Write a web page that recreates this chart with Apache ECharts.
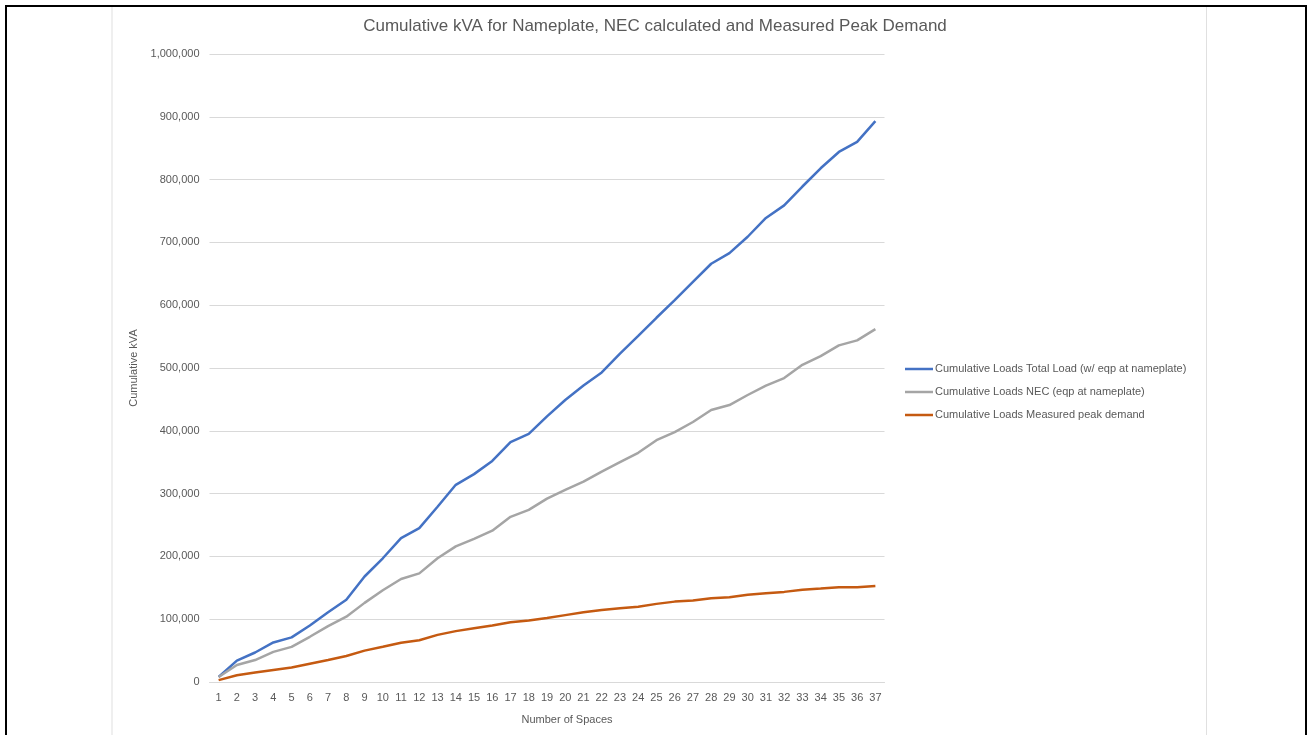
<!DOCTYPE html>
<html>
<head>
<meta charset="utf-8">
<script src="https://cdn.jsdelivr.net/npm/echarts@6/dist/echarts.min.js"></script>
<style>
html,body{margin:0;padding:0;background:#fff;}
#c{width:1310px;height:735px;}
</style>
</head>
<body>
<div id="c"></div>
<script>
const categories = ['1','2','3','4','5','6','7','8','9','10','11','12','13','14','15','16','17','18','19','20','21','22','23','24','25','26','27','28','29','30','31','32','33','34','35','36','37'];
const totalLoad = [8000,34000,47000,63000,71000,90000,111000,131000,168000,197000,229000,245000,279000,314000,331000,352000,382000,395000,423000,449000,472000,493000,523000,551000,580000,608000,637000,666000,683000,709000,739000,759000,789000,818000,844000,860000,893000];
const necLoad = [8000,27000,35000,48000,56000,72000,89000,104000,126000,146000,164000,173000,197000,216000,228000,241000,263000,274000,292000,306000,319000,335000,350000,365000,385000,398000,414000,433000,441000,457000,472000,484000,505000,519000,536000,544000,562000];
const measuredPeak = [3000,10700,15000,19000,23000,29000,35000,41500,50000,56000,62500,66500,75000,81000,85500,90000,95000,97800,102000,106500,111000,114800,117500,120000,124400,128000,129700,133500,135000,139000,141400,143500,147000,148800,151000,151000,153000];
const seriesNames = ['Cumulative Loads Total Load (w/ eqp at nameplate)','Cumulative Loads NEC (eqp at nameplate)','Cumulative Loads Measured peak demand'];
const seriesColors = ['#4472C4','#A5A5A5','#C55A11'];
const yTicks = {min:0, max:1000000, interval:100000};

const FONT = 'Liberation Sans';
const TXT = '#595959';
const chart = echarts.init(document.getElementById('c'), null, {renderer:'canvas'});
chart.setOption({
  animation:false,
  backgroundColor:'#ffffff',
  textStyle:{fontFamily:FONT},
  title:{
    text:'Cumulative kVA for Nameplate, NEC calculated and Measured Peak Demand',
    left:'center', top:18, padding:0,
    textStyle:{fontFamily:FONT, fontSize:17, fontWeight:'normal', color:TXT}
  },
  legend:{
    orient:'vertical', left:900, top:358, itemWidth:28, itemHeight:2.5, itemGap:11, icon:'rect',
    textStyle:{fontFamily:FONT, fontSize:11, color:TXT, lineHeight:12, padding:[0,0,0,-3]},
    data:seriesNames.map((n,i)=>({name:n, icon:'rect', itemStyle:{color:seriesColors[i]}}))
  },
  grid:{left:209.5, right:425.5, top:54, bottom:53, containLabel:false},
  xAxis:{
    type:'category', data:categories, boundaryGap:true,
    name:'Number of Spaces', nameLocation:'middle', nameGap:32,
    nameTextStyle:{fontFamily:FONT, fontSize:11, color:TXT, padding:[0,0,0,40]},
    axisLine:{lineStyle:{color:'#D9D9D9', width:1}},
    axisTick:{show:false},
    axisLabel:{fontFamily:FONT, fontSize:11, color:TXT, margin:10, interval:0}
  },
  yAxis:{
    type:'value', min:yTicks.min, max:yTicks.max, interval:yTicks.interval,
    name:'Cumulative kVA', nameLocation:'middle', nameGap:63, nameRotate:90,
    nameTextStyle:{fontFamily:FONT, fontSize:11, color:TXT},
    axisLine:{show:false}, axisTick:{show:false},
    splitLine:{lineStyle:{color:'#D9D9D9', width:1}},
    axisLabel:{fontFamily:FONT, fontSize:11, color:TXT, margin:10,
      formatter:v=>v.toLocaleString('en-US')}
  },
  series:seriesNames.map((n,i)=>({
    name:n, type:'line', data:[totalLoad, necLoad, measuredPeak][i], symbol:'none', showSymbol:false,
    lineStyle:{color:seriesColors[i], width:2.5}, itemStyle:{color:seriesColors[i]}
  })),
  graphic:[
    {type:'rect', silent:true, shape:{x:5, y:5, width:1300, height:2}, style:{fill:'#000'}},
    {type:'rect', silent:true, shape:{x:5, y:5, width:2, height:735}, style:{fill:'#000'}},
    {type:'rect', silent:true, shape:{x:1305, y:5, width:2, height:735}, style:{fill:'#000'}},
    {type:'rect', silent:true, shape:{x:111.5, y:7, width:1, height:728}, style:{fill:'#E0E0E0'}},
    {type:'rect', silent:true, shape:{x:1206, y:7, width:1, height:728}, style:{fill:'#E0E0E0'}}
  ]
});
</script>
</body>
</html>
